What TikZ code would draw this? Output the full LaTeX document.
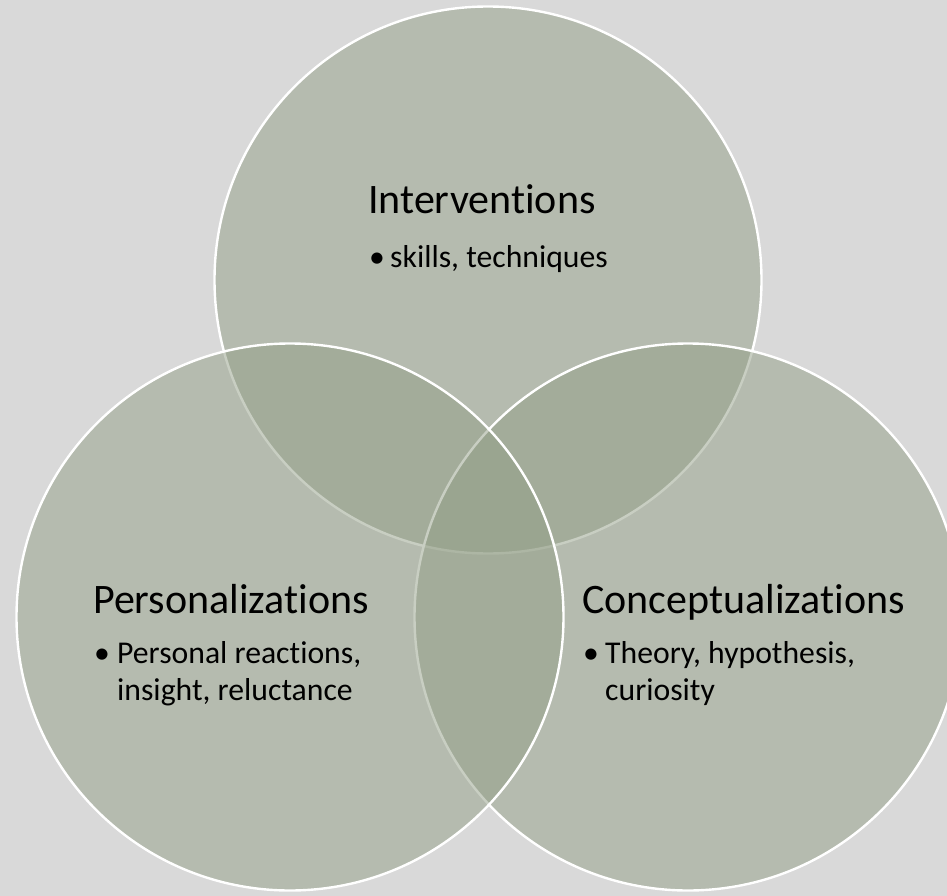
\documentclass[tikz,border=0pt]{standalone}
\usepackage{fontspec}
\setmainfont[Ligatures=NoCommon]{Carlito}
\definecolor{bg}{HTML}{D9D9D9}
\definecolor{venn}{RGB}{147,159,135}
\begin{document}
\begin{tikzpicture}[x=1pt,y=-1pt,
  venncircle/.style={circle, minimum size=547pt, inner sep=0pt, outer sep=0pt,
    fill=venn, fill opacity=0.5, draw=white, draw opacity=1, line width=2.4pt},
  titletext/.style={anchor=base west, inner sep=0pt, font=\fontsize{42}{50}\selectfont},
  itemtext/.style={anchor=base west, inner sep=0pt, font=\fontsize{31.7}{38}\selectfont}]
\useasboundingbox (0,0) rectangle (947,896);
\fill[bg] (0,0) rectangle (947,896);
\begin{scope}
\clip (0,0) rectangle (947,896);
\node[venncircle] (top) at (488,280) {};
\node[venncircle] (right) at (688,617) {};
\node[venncircle] (left) at (290,617) {};
\end{scope}
% top circle text
\node[titletext] (t1) at (368,214) {Interventions};
\node[itemtext] (b1) at (369,267) {•};
\node[itemtext] (i1) at (390,267) {skills, techniques};
% left circle text
\node[titletext] (t2) at (93,613) {Personalizations};
\node[itemtext] (b2) at (94,663) {•};
\node[itemtext] (i2a) at (117,663) {Personal reactions,};
\node[itemtext] (i2b) at (117,700) {insight, reluctance};
% right circle text
\node[titletext] (t3) at (582,613) {Conceptualizations};
\node[itemtext] (b3) at (583,663) {•};
\node[itemtext] (i3a) at (605,663) {Theory, hypothesis,};
\node[itemtext] (i3b) at (605,700) {curiosity};
\end{tikzpicture}
\end{document}
